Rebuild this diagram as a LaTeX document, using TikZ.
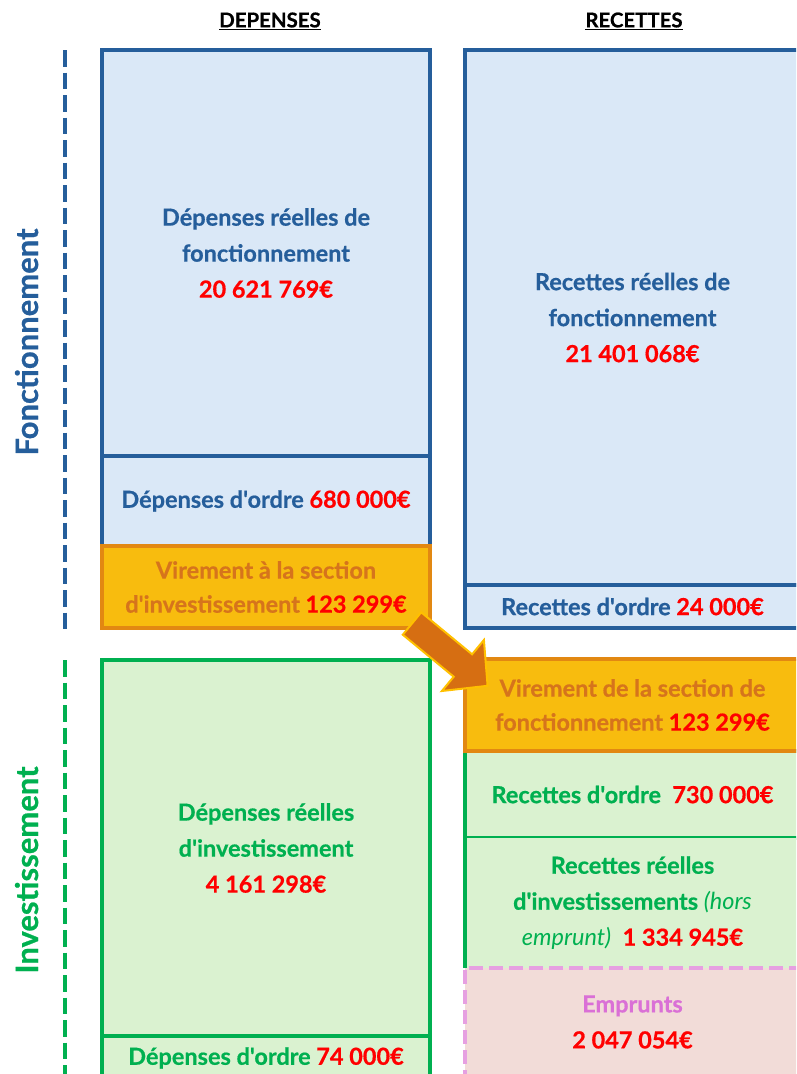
\documentclass[tikz,border=0pt]{standalone}
\usepackage{fontspec}
\newfontfamily\lato{Lato}[BoldFeatures={FakeBold=0.6}]
\definecolor{blueC}{RGB}{37,94,155}
\definecolor{blueF}{RGB}{218,232,247}
\definecolor{orF}{RGB}{248,188,14}
\definecolor{orB}{RGB}{226,136,18}
\definecolor{orT}{RGB}{214,116,28}
\definecolor{arF}{RGB}{214,110,18}
\definecolor{arB}{RGB}{255,192,0}
\definecolor{grC}{RGB}{0,176,80}
\definecolor{grF}{RGB}{218,242,208}
\definecolor{pkB}{RGB}{230,160,225}
\definecolor{pkF}{RGB}{242,220,216}
\definecolor{pkT}{RGB}{218,112,214}
\definecolor{redC}{RGB}{255,0,0}
\tikzset{
  base/.style={rectangle, anchor=north west, inner sep=0pt, outer sep=0pt, line width=4pt, align=center,
    font=\lato\bfseries\fontsize{23.5}{36}\selectfont},
  bluebox/.style={base, draw=blueC, fill=blueF, text=blueC},
  orbox/.style={base, draw=orB, fill=orF, text=orT, font=\lato\bfseries\fontsize{23.5}{34}\selectfont},
  grbox/.style={base, draw=grC, fill=grF, text=grC},
  grfill/.style={base, fill=grF, text=grC},
  pkbox/.style={base, draw=pkB, fill=pkF, text=pkT, dash pattern=on 14pt off 6pt},
  header/.style={font=\lato\bfseries\fontsize{20.4}{22}\selectfont, text=black, inner sep=0pt},
  sidelabel/.style={rotate=90, anchor=base, inner sep=0pt, font=\lato\bfseries\fontsize{31}{34}\selectfont},
  sideline/.style={line width=4pt, dash pattern=on 16.7pt off 5.8pt}
}
\newcommand{\amt}[1]{\textcolor{redC}{#1}}
\begin{document}
\begin{tikzpicture}[x=1pt,y=-1pt]
\path[use as bounding box] (0,0) rectangle (796,1074);
\clip (0,0) rectangle (796,1074);

% headers
\node[header] (hdep) at (270,21) {\underline{DEPENSES}};
\node[header] (hrec) at (634,21) {\underline{RECETTES}};

% side labels
\node[sidelabel, text=blueC] (lfonc) at (38,342) {Fonctionnement};
\node[sidelabel, text=grC] (linv) at (38,870) {Investissement};
\coordinate (fa) at (65,50); \coordinate (fb) at (65,630);
\coordinate (ia) at (65,660); \coordinate (ib) at (65,1080);
\draw[sideline, blueC] (fa) -- (fb);
\draw[sideline, grC] (ia) -- (ib);

% left column
\node[bluebox, minimum width=328, minimum height=406] (drf) at (102,50)
  {Dépenses réelles de\\fonctionnement\\\amt{20 621 769€}};
\node[bluebox, minimum width=328, minimum height=90] (dord) at (102,456)
  {Dépenses d'ordre \amt{680 000€}};
\node[orbox, minimum width=328, minimum height=82] (vir) at (102,546)
  {Virement à la section\\d'investissement \amt{123 299€}};
\node[grbox, minimum width=328, minimum height=376] (dri) at (102,660)
  {Dépenses réelles\\d'investissement\\\amt{4 161 298€}};
\node[grbox, minimum width=328, minimum height=44] (dord2) at (102,1036)
  {Dépenses d'ordre \amt{74 000€}};

% right column
\node[bluebox, minimum width=335, minimum height=535] (rrf) at (465,50)
  {Recettes réelles de\\fonctionnement\\\amt{21 401 068€}};
\node[bluebox, minimum width=335, minimum height=43] (rord) at (465,585)
  {Recettes d'ordre \amt{24 000€}};
\node[grbox, minimum width=335, minimum height=87] (r730) at (465,751)
  {Recettes d'ordre\ \ \amt{730 000€}};
\node[grfill, minimum width=335, minimum height=130] (rri) at (465,838)
  {Recettes réelles\\d'investissements {\mdseries\itshape (hors}\\{\mdseries\itshape emprunt)}\ \ \amt{1 334 945€}};
\draw[line width=4pt, grC] (rri.south west) -- (rri.north west);
\node[pkbox, minimum width=335, minimum height=108] (emp) at (465,968)
  {Emprunts\\\amt{2 047 054€}};
\node[orbox, minimum width=335, minimum height=92] (virR) at (465,659)
  {Virement de la section de\\fonctionnement \amt{123 299€}};

% transfer arrow
\draw[fill=arF, draw=arB, line width=2pt, line join=miter]
  (402.8,634.7) -- (453.7,676.7) -- (441.9,691.0) -- (487.6,685.8)
  -- (483.9,640.0) -- (472.1,654.3) -- (421.2,612.3) -- cycle;
\end{tikzpicture}
\end{document}
